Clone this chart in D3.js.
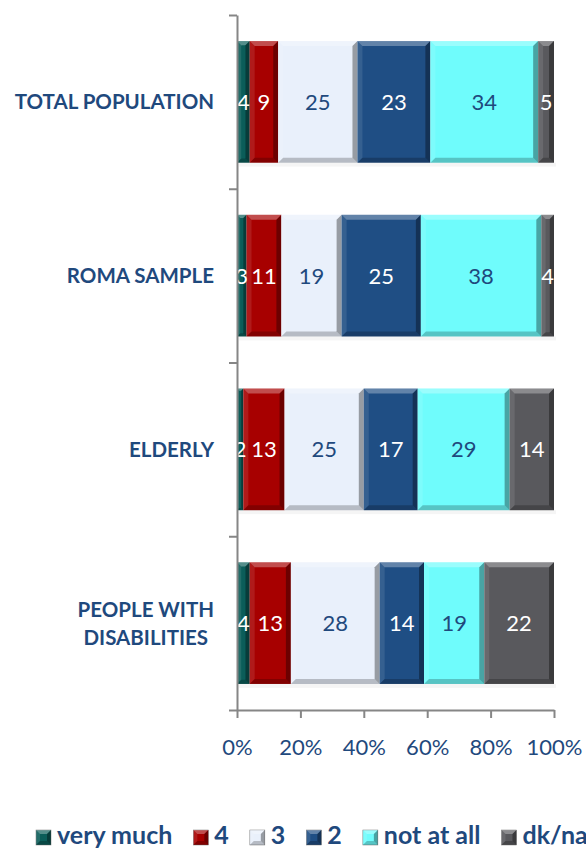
<!DOCTYPE html>
<html>
<head>
<meta charset="utf-8">
<script src="https://cdn.jsdelivr.net/npm/d3@7"></script>
<style>
  body { margin: 0; background: #fff; }
  svg { display: block; font-family: Lato, "Open Sans", sans-serif; }
</style>
</head>
<body>
<div id="chart"></div>
<script>
// Data (percent per group, each row sums to 100)
var groups = ["TOTAL POPULATION", "ROMA SAMPLE", "ELDERLY", "PEOPLE WITH DISABILITIES"];
var groupLines = [["TOTAL POPULATION"], ["ROMA SAMPLE"], ["ELDERLY"], ["PEOPLE WITH", "DISABILITIES"]];
var answers = ["very much", "4", "3", "2", "not at all", "dk/na"];
var answerColors = ["#0b5d59", "#a70000", "#e9f0fb", "#1f4e84", "#6ffcfc", "#59595d"];
var labelColors = ["#fff", "#fff", "#1f497d", "#fff", "#1f497d", "#fff"];
var veryMuch = [4, 3, 2, 4];
var four = [9, 11, 13, 13];
var three = [25, 19, 25, 28];
var two = [23, 25, 17, 14];
var notAtAll = [34, 38, 29, 19];
var dkna = [5, 4, 14, 22];
var xTicks = [0, 0.2, 0.4, 0.6, 0.8, 1];

var series = [veryMuch, four, three, two, notAtAll, dkna];

// Chart dimensions
var width = 586, height = 848;
var plot = {left: 237, right: 554, top: 15, bottom: 710};
var textBlue = "#1f497d";
var axisGrey = "#868686";

var svg = d3.select("#chart").append("svg")
    .attr("width", width)
    .attr("height", height);

// build rows: one object per group with stacked segments
var rows = groups.map(function(g, i) {
    var total = d3.sum(series, function(s) { return s[i]; });
    var acc = 0;
    var segs = series.map(function(s, j) {
        var seg = {k: j, value: s[i], x0: acc / total, x1: (acc + s[i]) / total};
        acc += s[i];
        return seg;
    });
    return {name: g, lines: groupLines[i], segs: segs};
});

var x = d3.scaleLinear().domain([0, 1]).range([plot.left, plot.right]);
var y = d3.scaleBand().domain(groups).range([plot.top, plot.bottom])
    .paddingInner(0.3).paddingOuter(0.15);
var yEdges = d3.scaleLinear().domain([0, groups.length]).range([plot.top, plot.bottom]);

// bevelled block like the office chart style
function bevel(g, x0, x1, y0, y1, fill, size) {
    var b = Math.min(size, (x1 - x0) / 3, (y1 - y0) / 3);
    g.append("rect")
        .attr("x", x0).attr("y", y0)
        .attr("width", x1 - x0).attr("height", y1 - y0)
        .attr("fill", fill);
    var faces = [
        {p: [[x0, y0], [x1, y0], [x1 - b, y0 + b], [x0 + b, y0 + b]], c: "#fff", o: 0.3},
        {p: [[x0, y0], [x0 + b, y0 + b], [x0 + b, y1 - b], [x0, y1]], c: "#fff", o: 0.1},
        {p: [[x1, y0], [x1 - b, y0 + b], [x1 - b, y1 - b], [x1, y1]], c: "#000", o: 0.35},
        {p: [[x0, y1], [x0 + b, y1 - b], [x1 - b, y1 - b], [x1, y1]], c: "#000", o: 0.22}
    ];
    faces.forEach(function(f) {
        g.append("path")
            .attr("d", "M" + f.p.join("L") + "Z")
            .attr("fill", f.c)
            .attr("fill-opacity", f.o);
    });
}

// faint shadow under each bar
svg.append("g").selectAll("rect")
    .data(rows)
    .enter().append("rect")
    .attr("x", x(0) + 2)
    .attr("y", function(d) { return y(d.name) + y.bandwidth(); })
    .attr("width", x(1) - x(0))
    .attr("height", 4)
    .attr("fill", "#000")
    .attr("fill-opacity", 0.04);

var bars = svg.append("g").attr("class", "bars");
rows.forEach(function(r) {
    var y0 = y(r.name), y1 = y0 + y.bandwidth();
    r.segs.forEach(function(s) {
        bevel(bars, x(s.x0), x(s.x1), y0, y1, answerColors[s.k], 5);
    });
});

// data labels
rows.forEach(function(r) {
    var cy = y(r.name) + y.bandwidth() / 2;
    svg.append("g").selectAll("text")
        .data(r.segs)
        .enter().append("text")
        .attr("x", function(s) { return (x(s.x0) + x(s.x1)) / 2; })
        .attr("y", cy)
        .attr("dy", "0.36em")
        .attr("text-anchor", "middle")
        .attr("font-size", 22)
        .attr("fill", function(s) { return labelColors[s.k]; })
        .text(function(s) { return s.value; });
});

// category axis
var yAxis = svg.append("g")
    .attr("transform", "translate(" + plot.left + ",0)")
    .call(d3.axisLeft(yEdges).ticks(groups.length).tickFormat("").tickSize(8).tickSizeOuter(0));
yAxis.select(".domain").attr("stroke", axisGrey).attr("stroke-width", 2);
yAxis.selectAll(".tick line").attr("stroke", axisGrey).attr("stroke-width", 2);

// category labels
var catLabels = svg.append("g").selectAll("text")
    .data(rows)
    .enter().append("text")
    .attr("font-weight", "bold")
    .attr("font-size", 20.5)
    .attr("fill", textBlue)
    .attr("text-anchor", "middle");

catLabels.each(function(d) {
    var t = d3.select(this);
    var cy = y(d.name) + y.bandwidth() / 2;
    var n = d.lines.length;
    d.lines.forEach(function(line, i) {
        t.append("tspan")
            .attr("y", cy + (i - (n - 1) / 2) * 28)
            .attr("dy", "0.36em")
            .text(line);
    });
    var maxW = 0;
    t.selectAll("tspan").each(function() {
        maxW = Math.max(maxW, this.getComputedTextLength());
    });
    t.selectAll("tspan").attr("x", 214 - maxW / 2);
});

// value axis
var xAxis = svg.append("g")
    .attr("transform", "translate(0," + plot.bottom + ")")
    .call(d3.axisBottom(x).tickValues(xTicks).tickFormat(d3.format(".0%")).tickSize(8).tickSizeOuter(0));
xAxis.select(".domain").attr("stroke", axisGrey).attr("stroke-width", 2);
xAxis.selectAll(".tick line").attr("stroke", axisGrey).attr("stroke-width", 2);
xAxis.selectAll(".tick text")
    .attr("y", 45)
    .attr("dy", 0)
    .attr("font-size", 22)
    .attr("font-family", "Lato, 'Open Sans', sans-serif")
    .attr("fill", textBlue);

// legend (runs off the right edge, as in the original)
var legend = svg.append("g").attr("class", "legend");
var lx = 36;
answers.forEach(function(a, i) {
    var item = legend.append("g");
    bevel(item, lx, lx + 15, 830, 845, answerColors[i], 4);
    item.select("rect").attr("stroke", "#777").attr("stroke-width", 0.5);
    var t = item.append("text")
        .attr("x", lx + 21)
        .attr("y", 844)
        .attr("font-size", 25)
        .attr("font-weight", "bold")
        .attr("fill", textBlue)
        .text(a);
    lx += 21 + t.node().getComputedTextLength() + 21;
});
</script>
</body>
</html>
